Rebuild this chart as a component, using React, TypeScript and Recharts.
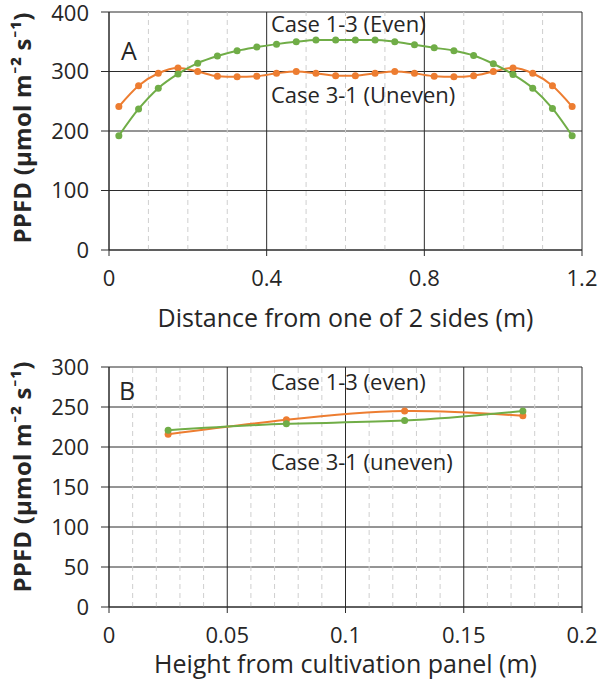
import React from 'react';
import {
  LineChart,
  Line,
  XAxis,
  YAxis,
  CartesianGrid,
  ReferenceLine,
} from 'recharts';

// Panel A: distance from one of 2 sides (m)
const distanceA = [
  0.025, 0.075, 0.125, 0.175, 0.225, 0.275, 0.325, 0.375, 0.425, 0.475, 0.525, 0.575,
  0.625, 0.675, 0.725, 0.775, 0.825, 0.875, 0.925, 0.975, 1.025, 1.075, 1.125, 1.175,
];
const evenA = [
  192, 237, 272, 296, 314, 326, 335, 341, 346, 350, 353, 353,
  353, 353, 350, 345, 340, 335, 327, 313, 295, 272, 238, 192,
];
const unevenA = [
  241, 276, 297, 306, 300, 292, 291, 292, 297, 300, 297, 293,
  293, 297, 300, 297, 292, 291, 293, 300, 306, 297, 276, 241,
];
const xTicksA = [0, 0.4, 0.8, 1.2];
const xMinorA = [0.1, 0.2, 0.3, 0.5, 0.6, 0.7, 0.9, 1.0, 1.1];
const yTicksA = [0, 100, 200, 300, 400];

// Panel B: height from cultivation panel (m)
const heightB = [0.025, 0.075, 0.125, 0.175];
const evenB = [221, 229, 233, 245];
const unevenB = [216, 234, 245, 239];
const xTicksB = [0, 0.05, 0.1, 0.15, 0.2];
const xMinorB = [
  0.01, 0.02, 0.03, 0.04, 0.06, 0.07, 0.08, 0.09, 0.11, 0.12, 0.13, 0.14,
  0.16, 0.17, 0.18, 0.19,
];
const yTicksB = [0, 50, 100, 150, 200, 250, 300];

const dataA = distanceA.map((x, i) => ({ x, even: evenA[i], uneven: unevenA[i] }));
const dataB = heightB.map((x, i) => ({ x, even: evenB[i], uneven: unevenB[i] }));

const FONT = '"Open Sans", Lato, sans-serif';
const INK = '#262626';
const GRID = '#2b2b2b';
const MINOR = '#cfcfcf';
const GREEN = '#70AD47';
const ORANGE = '#ED7D31';

const tickStyle = { fontSize: 22, fill: INK, fontFamily: FONT };
const axisLabelStyle = { fontSize: 25, fill: INK, fontFamily: FONT };

const yLabel = (dy: number) => (props: any) => {
  const vb = props.viewBox;
  const cx = 31;
  const cy = vb.y + vb.height / 2 + dy;
  return (
    <text
      x={cx}
      y={cy}
      transform={`rotate(-90, ${cx}, ${cy})`}
      textAnchor="middle"
      fontFamily={FONT}
      fontSize={24}
      fontWeight="bold"
      letterSpacing={0.2}
      fill={INK}
    >
      PPFD (μmol m⁻² s⁻¹)
    </text>
  );
};

const textStyle = (left: number, top: number, size: number): React.CSSProperties => ({
  position: 'absolute',
  left,
  top,
  fontFamily: FONT,
  fontSize: size,
  color: INK,
  lineHeight: 1,
  whiteSpace: 'nowrap',
});

export default function App() {
  return (
    <div style={{ position: 'absolute', left: 0, top: 0, width: 604, height: 689, background: '#fff' }}>
      <LineChart
        width={604}
        height={340}
        data={dataA}
        margin={{ top: 12, right: 22, left: 0, bottom: 10 }}
      >
        <CartesianGrid stroke={GRID} strokeWidth={1} />
        {xMinorA.map((v) => (
          <ReferenceLine key={`a-${v}`} x={v} stroke={MINOR} strokeDasharray="5 4" />
        ))}
        <XAxis
          dataKey="x"
          type="number"
          domain={[0, 1.2]}
          ticks={xTicksA}
          tickFormatter={(v) => String(v)}
          height={80}
          tickSize={6}
          tickMargin={14}
          stroke={GRID}
          tick={tickStyle}
          label={{
            value: 'Distance from one of 2 sides (m)',
            position: 'insideBottom',
            offset: 3,
            style: axisLabelStyle,
          }}
        />
        <YAxis
          type="number"
          domain={[0, 400]}
          ticks={yTicksA}
          width={109}
          tickSize={8}
          tickMargin={12}
          stroke={GRID}
          tick={tickStyle}
          label={{ content: yLabel(-3) }}
        />
        <Line
          type="monotone"
          dataKey="uneven"
          stroke={ORANGE}
          strokeWidth={2}
          dot={{ r: 3.5, fill: ORANGE, stroke: ORANGE, strokeWidth: 0 }}
          isAnimationActive={false}
        />
        <Line
          type="monotone"
          dataKey="even"
          stroke={GREEN}
          strokeWidth={2}
          dot={{ r: 3.5, fill: GREEN, stroke: GREEN, strokeWidth: 0 }}
          isAnimationActive={false}
        />
      </LineChart>

      <LineChart
        width={604}
        height={349}
        data={dataB}
        margin={{ top: 27, right: 22, left: 0, bottom: 10 }}
      >
        <CartesianGrid stroke={GRID} strokeWidth={1} />
        {xMinorB.map((v) => (
          <ReferenceLine key={`b-${v}`} x={v} stroke={MINOR} strokeDasharray="5 4" />
        ))}
        <XAxis
          dataKey="x"
          type="number"
          domain={[0, 0.2]}
          ticks={xTicksB}
          tickFormatter={(v) => String(v)}
          height={72}
          tickSize={6}
          tickMargin={14}
          stroke={GRID}
          tick={tickStyle}
          label={{
            value: 'Height from cultivation panel (m)',
            position: 'insideBottom',
            offset: 6,
            style: axisLabelStyle,
          }}
        />
        <YAxis
          type="number"
          domain={[0, 300]}
          ticks={yTicksB}
          width={109}
          tickSize={8}
          tickMargin={12}
          stroke={GRID}
          tick={tickStyle}
          label={{ content: yLabel(-10) }}
        />
        <Line
          type="natural"
          dataKey="uneven"
          stroke={ORANGE}
          strokeWidth={2}
          dot={{ r: 3.5, fill: ORANGE, stroke: ORANGE, strokeWidth: 0 }}
          isAnimationActive={false}
        />
        <Line
          type="natural"
          dataKey="even"
          stroke={GREEN}
          strokeWidth={2}
          dot={{ r: 3.5, fill: GREEN, stroke: GREEN, strokeWidth: 0 }}
          isAnimationActive={false}
        />
      </LineChart>

      <div style={textStyle(121, 38, 25)}>A</div>
      <div style={textStyle(271, 12, 22)}>Case 1-3 (Even)</div>
      <div style={textStyle(271, 83, 22)}>Case 3-1 (Uneven)</div>
      <div style={textStyle(119, 378, 25)}>B</div>
      <div style={textStyle(271, 370, 22)}>Case 1-3 (even)</div>
      <div style={textStyle(271, 450, 22)}>Case 3-1 (uneven)</div>
    </div>
  );
}
